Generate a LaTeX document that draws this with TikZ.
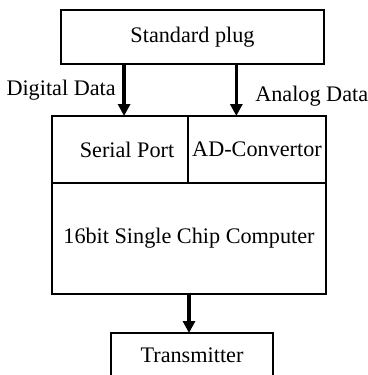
\documentclass[tikz,border=0pt]{standalone}
\usepackage{fontspec}
\setmainfont{Liberation Serif}
\usetikzlibrary{calc,positioning,arrows.meta}

\begin{document}
\begin{tikzpicture}[x=0.025cm,y=-0.025cm,
    box/.style={draw,line width=0.9pt,inner sep=0pt,outer sep=0pt,font=\fontsize{15.8}{18}\selectfont},
    lab/.style={inner sep=0pt,font=\fontsize{15.8}{18}\selectfont},
    bigarrow/.style={line width=2.6pt,-{Triangle[length=8.5pt,width=8.5pt]}}]
    \useasboundingbox (0,0) rectangle (368,375);
    % boxes
    \node[box,minimum width=6.575cm,minimum height=1.35cm] (plug) at (192.5,37) {Standard plug};
    \node[box,minimum width=3.4cm,minimum height=1.675cm] (serial) at (120,149.5) {\hspace{10pt}Serial Port};
    \node[box,minimum width=3.45cm,minimum height=1.675cm,right=0pt of serial] (adc) {AD-Convertor};
    \node[box,minimum width=6.85cm,minimum height=2.775cm] (cpu) at (189,238.5) {16bit Single Chip Computer};
    \node[box,minimum width=4.05cm,minimum height=1.1cm] (trans) at (192,355) {Transmitter};
    % arrows
    \coordinate (dd) at ($(serial.north west)!0.53!(serial.north east)$);
    \coordinate (ad) at ($(adc.north west)!0.35!(adc.north east)$);
    \draw[bigarrow] (plug.south -| dd) -- (dd);
    \draw[bigarrow] (plug.south -| ad) -- (ad);
    \draw[bigarrow] (cpu.south) -- (cpu.south |- trans.north);
    % labels
    \node[lab,anchor=east] (digital) at (116,90) {Digital Data};
    \node[lab,anchor=west] (analog) at (255,96) {Analog Data};
\end{tikzpicture}
\end{document}
